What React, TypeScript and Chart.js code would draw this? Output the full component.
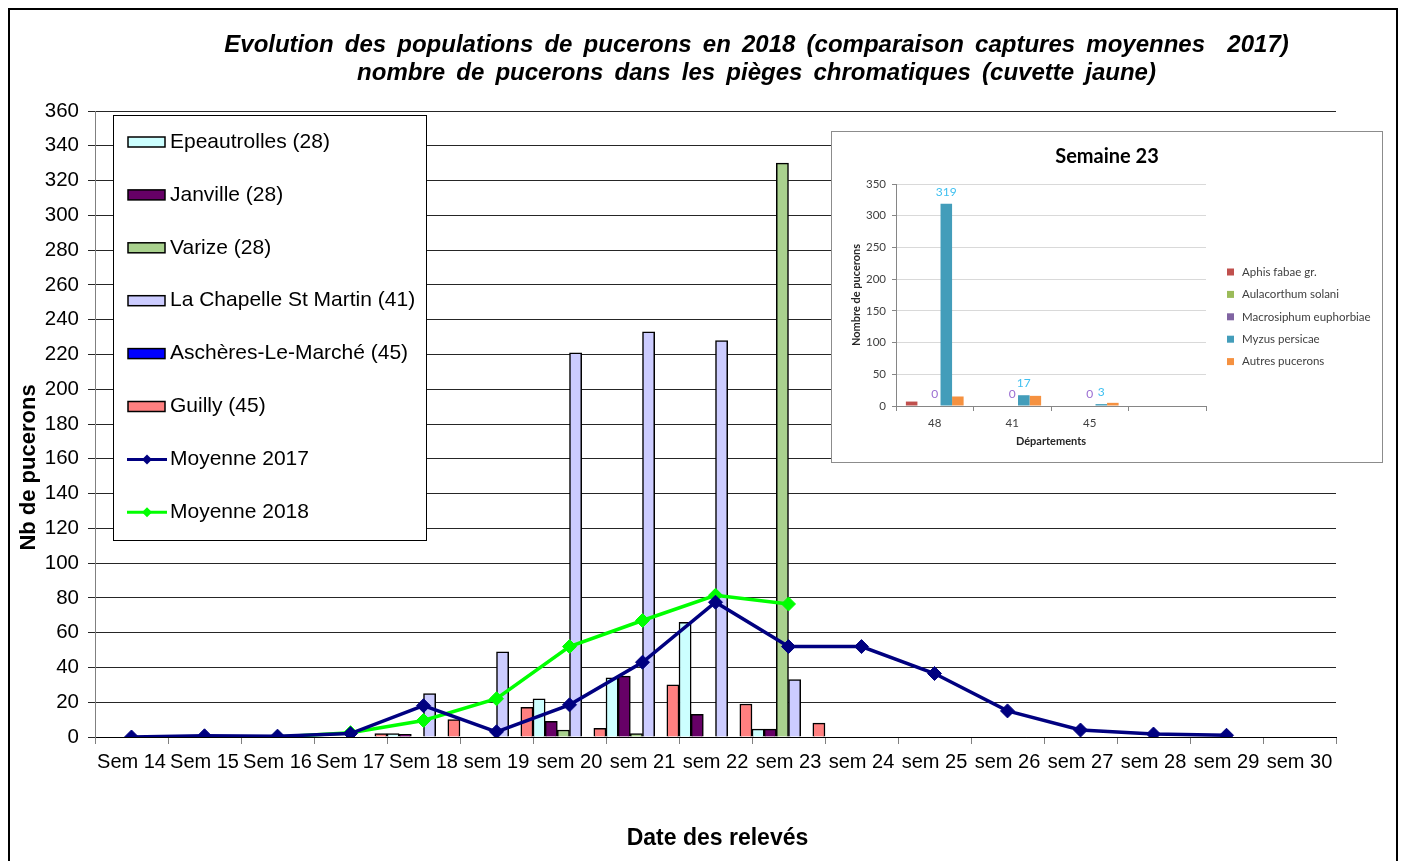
import React, { useEffect, useRef } from 'react';
import { Chart, registerables } from 'chart.js';

Chart.register(...registerables);

// ---------- Main chart data ----------
const weeks = ['Sem 14', 'Sem 15', 'Sem 16', 'Sem 17', 'Sem 18', 'sem 19', 'sem 20', 'sem 21', 'sem 22', 'sem 23', 'sem 24', 'sem 25', 'sem 26', 'sem 27', 'sem 28', 'sem 29', 'sem 30'];

const seriesNames = ['Epeautrolles (28)', 'Janville (28)', 'Varize (28)', 'La Chapelle St Martin (41)', 'Aschères-Le-Marché (45)', 'Guilly (45)'];
const seriesColors = ['#CCFFFF', '#660066', '#A9D18E', '#CCCCFF', '#0000FF', '#FF8080'];

//                    14    15    16    17  18  19   20   21   22   23   24    25    26    27    28    29    30
const epeautrolles = [null, null, null, 0, 2, 0, 22, 34, 66, 4.5, null, null, null, null, null, null, null];
const janville = [null, null, null, 0, 1.5, 0, 9, 35, 13, 4.5, null, null, null, null, null, null, null];
const varize = [null, null, null, 0, 0, 0, 4, 2, 0, 330, null, null, null, null, null, null, null];
const laChapelle = [null, null, null, 0, 25, 49, 221, 233, 228, 33, null, null, null, null, null, null, null];
const ascheres = [null, null, null, 0, 0, 0, 0, 0, 0, 0, null, null, null, null, null, null, null];
const guilly = [null, null, null, 2, 10, 17, 5, 30, 19, 8, null, null, null, null, null, null, null];

const lineNames = ['Moyenne 2017', 'Moyenne 2018'];
const lineColors = ['#000080', '#00FF00'];
const moyenne2017 = [0, 0.7, 0.5, 2, 18, 3, 18.5, 43, 77.5, 52, 52, 36.5, 15, 4, 1.7, 1, null];
const moyenne2018 = [null, null, 0, 2.5, 9.5, 22, 52, 67, 81.5, 76.5, null, null, null, null, null, null, null];

const yTicksMax = 360;
const yTicksStep = 20;

const titleLines = [
  'Evolution des populations de pucerons en 2018 (comparaison captures moyennes  2017)',
  'nombre de pucerons dans les pièges chromatiques (cuvette jaune)',
];
const xTitle = 'Date des relevés';
const yTitle = 'Nb de pucerons';

// ---------- Inset chart data ----------
const insetTitle = 'Semaine 23';
const insetCats = ['48', '41', '45', ''];
const insetNames = ['Aphis fabae gr.', 'Aulacorthum solani', 'Macrosiphum euphorbiae', 'Myzus persicae', 'Autres pucerons'];
const insetColors = ['#C0504D', '#9BBB59', '#8064A2', '#439DBA' + '', '#F59140'];
const aphisFabae = [7, 0, 0, null];
const aulacorthum = [0, 0, 0, null];
const macrosiphum = [0, 0, 0, null];
const myzus = [319, 17, 3, null];
const autres = [15, 16, 5, null];
const insetLabelColors: Record<number, string> = { 2: '#9B6ED2', 3: '#40C0F0' };
const insetYMax = 350;
const insetYStep = 50;
const insetXTitle = 'Départements';
const insetYTitle = 'Nombre de pucerons';

const MAIN_FONT = '"Liberation Sans", Arial, sans-serif';
const INSET_FONT = 'Lato, "Open Sans", sans-serif';

const mainDecor = {
  id: 'mainDecor',
  afterDraw(chart: any) {
    const ctx: any = chart.ctx;
    ctx.save();
    ctx.fillStyle = '#000';
    ctx.textAlign = 'center';
    ctx.textBaseline = 'alphabetic';
    ctx.font = `italic bold 24px ${MAIN_FONT}`;
    try { ctx.wordSpacing = '4.5px'; } catch (e) { /* ignore */ }
    ctx.fillText(titleLines[0], 756.5, 51.5);
    ctx.fillText(titleLines[1], 756.5, 80);
    try { ctx.wordSpacing = '0px'; } catch (e) { /* ignore */ }

    ctx.font = `bold 23px ${MAIN_FONT}`;
    ctx.fillText(xTitle, 717.5, 845);

    ctx.save();
    ctx.translate(35, 467.5);
    ctx.rotate(-Math.PI / 2);
    ctx.font = `bold 22px ${MAIN_FONT}`;
    ctx.fillText(yTitle, 0, 0);
    ctx.restore();

    // legend
    const bx = 113.5, by = 115.5, bw = 313, bh = 425;
    ctx.fillStyle = '#fff';
    ctx.fillRect(bx, by, bw, bh);
    ctx.strokeStyle = '#000';
    ctx.lineWidth = 1;
    ctx.strokeRect(bx, by, bw, bh);

    const items: { label: string; color: string; kind: string }[] = [];
    chart.data.datasets.forEach((ds: any) => {
      items.push({ label: ds.label, color: ds.backgroundColor, kind: ds.type || 'bar' });
    });
    items.forEach((it, i) => {
      const cy = 142 + i * 52.9;
      if (it.kind === 'bar') {
        ctx.fillStyle = it.color;
        ctx.fillRect(128, cy - 5, 37, 10);
        ctx.strokeStyle = '#000';
        ctx.lineWidth = 1.5;
        ctx.strokeRect(128, cy - 5, 37, 10);
      } else {
        ctx.strokeStyle = it.color;
        ctx.lineWidth = 3;
        ctx.beginPath();
        ctx.moveTo(127, cy);
        ctx.lineTo(167, cy);
        ctx.stroke();
        ctx.fillStyle = it.color;
        ctx.beginPath();
        ctx.moveTo(147, cy - 5);
        ctx.lineTo(152, cy);
        ctx.lineTo(147, cy + 5);
        ctx.lineTo(142, cy);
        ctx.closePath();
        ctx.fill();
      }
      ctx.fillStyle = '#000';
      ctx.textAlign = 'left';
      ctx.textBaseline = 'middle';
      ctx.font = `21px ${MAIN_FONT}`;
      ctx.fillText(it.label, 170, cy);
    });
    ctx.restore();
  },
};

const insetDecor = {
  id: 'insetDecor',
  afterDatasetsDraw(chart: any) {
    const ctx: CanvasRenderingContext2D = chart.ctx;
    ctx.save();
    ctx.textAlign = 'center';
    ctx.textBaseline = 'middle';
    ctx.font = `12px ${INSET_FONT}`;
    Object.keys(insetLabelColors).forEach((k) => {
      const di = Number(k);
      const meta = chart.getDatasetMeta(di);
      const data = chart.data.datasets[di].data;
      meta.data.forEach((el: any, j: number) => {
        if (data[j] === null || data[j] === undefined) return;
        ctx.fillStyle = insetLabelColors[di];
        ctx.fillText(String(data[j]), el.x, el.y - 12);
      });
    });
    ctx.restore();
  },
  afterDraw(chart: any) {
    const ctx: CanvasRenderingContext2D = chart.ctx;
    ctx.save();
    ctx.fillStyle = '#000';
    ctx.textAlign = 'center';
    ctx.textBaseline = 'alphabetic';
    ctx.font = `bold 20px ${INSET_FONT}`;
    ctx.fillText(insetTitle, 275, 31);

    ctx.fillStyle = '#262626';
    ctx.textBaseline = 'middle';
    ctx.font = `bold 11px ${INSET_FONT}`;
    ctx.fillText(insetXTitle, 219, 309);

    ctx.save();
    ctx.translate(24, 163);
    ctx.rotate(-Math.PI / 2);
    ctx.font = `bold 11px ${INSET_FONT}`;
    ctx.fillText(insetYTitle, 0, 0);
    ctx.restore();

    chart.data.datasets.forEach((ds: any, i: number) => {
      const cy = 140 + i * 22.4;
      ctx.fillStyle = ds.backgroundColor;
      ctx.fillRect(395, cy - 3.5, 7, 7);
      ctx.fillStyle = '#404040';
      ctx.textAlign = 'left';
      ctx.textBaseline = 'middle';
      ctx.font = `11.5px ${INSET_FONT}`;
      ctx.fillText(ds.label, 410, cy);
    });
    ctx.restore();
  },
};

export default function App() {
  const mainRef = useRef<HTMLCanvasElement>(null);
  const insetRef = useRef<HTMLCanvasElement>(null);

  useEffect(() => {
    if (!mainRef.current || !insetRef.current) return;
    const barData = [epeautrolles, janville, varize, laChapelle, ascheres, guilly];
    const main = new Chart(mainRef.current, {
      type: 'bar',
      data: {
        labels: weeks,
        datasets: [
          ...barData.map((d, i) => ({
            type: 'bar' as const,
            label: seriesNames[i],
            data: d,
            backgroundColor: seriesColors[i],
            borderColor: '#000',
            borderWidth: 1.5,
            categoryPercentage: 1,
            barPercentage: 1,
            order: 2,
          })),
          {
            type: 'line' as const,
            label: lineNames[0],
            data: moyenne2017,
            borderColor: lineColors[0],
            backgroundColor: lineColors[0],
            borderWidth: 3.5,
            pointStyle: 'rectRot',
            pointRadius: 7,
            pointBorderWidth: 1,
            pointBackgroundColor: lineColors[0],
            pointBorderColor: lineColors[0],
            tension: 0,
            order: 0,
          },
          {
            type: 'line' as const,
            label: lineNames[1],
            data: moyenne2018,
            borderColor: lineColors[1],
            backgroundColor: lineColors[1],
            borderWidth: 3.5,
            pointStyle: 'rectRot',
            pointRadius: 7,
            pointBorderWidth: 1,
            pointBackgroundColor: lineColors[1],
            pointBorderColor: lineColors[1],
            tension: 0,
            order: 1,
          },
        ],
      } as any,
      options: {
        responsive: false,
        animation: false,
        events: [],
        layout: { padding: { left: 0, top: 111, right: 69, bottom: 0 } },
        plugins: { legend: { display: false }, title: { display: false }, tooltip: { enabled: false } },
        scales: {
          x: {
            type: 'category',
            offset: true,
            grid: { display: true, drawOnChartArea: false, drawTicks: true, tickLength: 7, color: '#808080', offset: true },
            border: { display: true, color: '#000', width: 1 },
            ticks: { autoSkip: false, maxRotation: 0, minRotation: 0, color: '#000', padding: 6, font: { family: MAIN_FONT, size: 20 } },
            afterFit: (s: any) => { s.height = 124; },
          },
          y: {
            min: 0,
            max: yTicksMax,
            ticks: { stepSize: yTicksStep, color: '#000', padding: 9, font: { family: MAIN_FONT, size: 20.5 } },
            grid: { color: '#262626', lineWidth: 1, drawTicks: true, tickLength: 7 },
            border: { display: true, color: '#808080' },
            afterFit: (s: any) => { s.width = 95; },
          },
        },
      } as any,
      plugins: [mainDecor],
    });

    const insetData = [aphisFabae, aulacorthum, macrosiphum, myzus, autres];
    const inset = new Chart(insetRef.current, {
      type: 'bar',
      data: {
        labels: insetCats,
        datasets: insetData.map((d, i) => ({
          label: insetNames[i],
          data: d,
          backgroundColor: insetColors[i],
          borderWidth: 0,
          categoryPercentage: 0.745,
          barPercentage: 1,
        })),
      },
      options: {
        responsive: false,
        animation: false,
        events: [],
        layout: { padding: { left: 0, top: 52, right: 176, bottom: 0 } },
        plugins: { legend: { display: false }, title: { display: false }, tooltip: { enabled: false } },
        scales: {
          x: {
            type: 'category',
            offset: true,
            grid: { display: true, drawOnChartArea: false, drawTicks: true, tickLength: 5, color: '#868686', offset: true },
            border: { display: true, color: '#868686' },
            ticks: { color: '#404040', padding: 5, font: { family: INSET_FONT, size: 11.5 } },
            afterFit: (s: any) => { s.height = 56; },
          },
          y: {
            min: 0,
            max: insetYMax,
            ticks: { stepSize: insetYStep, color: '#404040', padding: 6, font: { family: INSET_FONT, size: 11.5 } },
            grid: { color: '#d9d9d9', tickColor: '#868686', drawTicks: true, tickLength: 4 },
            border: { display: true, color: '#868686' },
            afterFit: (s: any) => { s.width = 64; },
          },
        },
      } as any,
      plugins: [insetDecor],
    });

    return () => {
      main.destroy();
      inset.destroy();
    };
  }, []);

  return (
    <div style={{ position: 'fixed', left: 0, top: 0, width: 1405, height: 861, background: '#fff', overflow: 'hidden' }}>
      <div style={{ position: 'absolute', left: 8, top: 8, width: 1390, height: 900, border: '2px solid #000', boxSizing: 'border-box' }} />
      <canvas ref={mainRef} width={1405} height={861} style={{ position: 'absolute', left: 0, top: 0, width: 1405, height: 861 }} />
      <div style={{ position: 'absolute', left: 831, top: 131, width: 552, height: 332, border: '1px solid #8c8c8c', boxSizing: 'border-box', background: '#fff' }}>
        <canvas ref={insetRef} width={550} height={330} style={{ display: 'block', width: 550, height: 330 }} />
      </div>
    </div>
  );
}
